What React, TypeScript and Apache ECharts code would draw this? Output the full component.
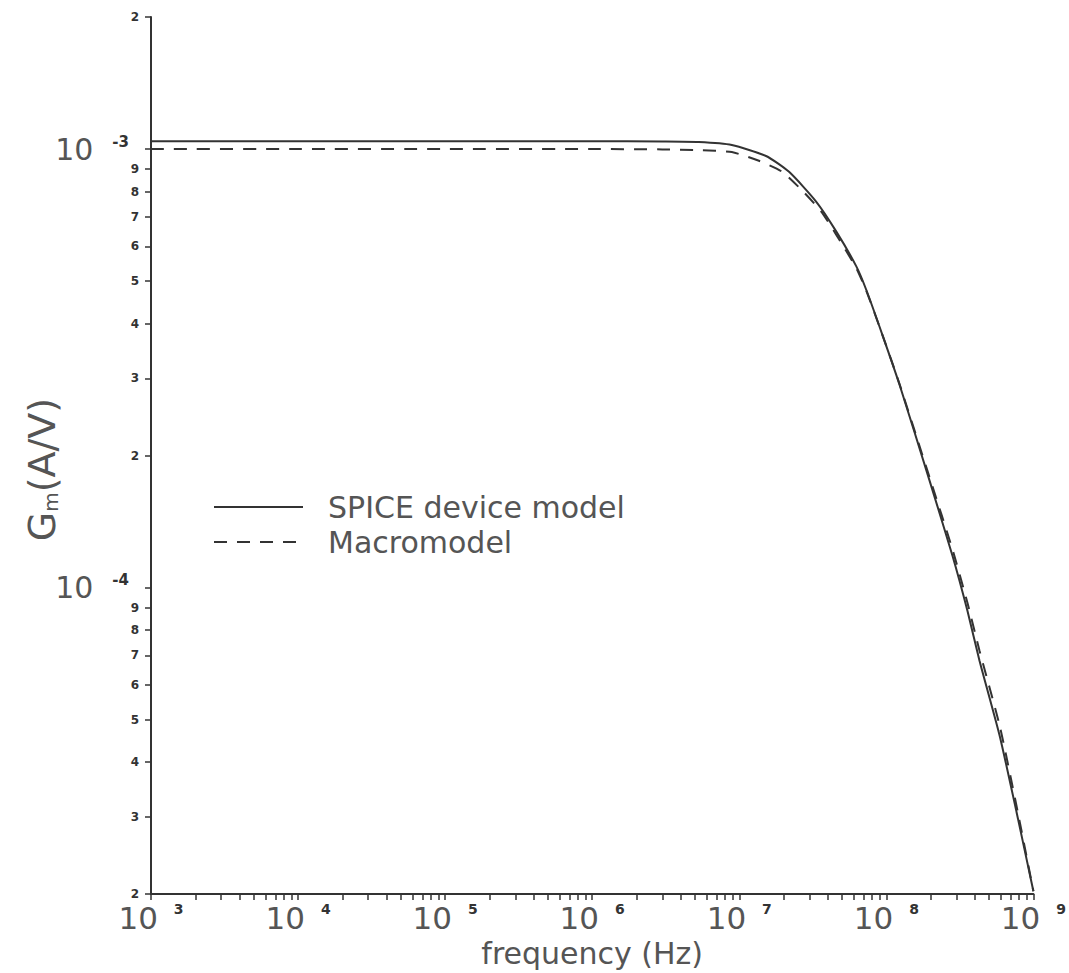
import React, { useEffect, useRef } from "react";
import * as echarts from "echarts";

// ---- data ----
const spiceFreq = [1e3, 1e4, 1e5, 1e6, 3e6, 5.3e6, 8.9e6, 1.52e7, 2.18e7, 3.33e7, 4.56e7, 6.25e7, 7.31e7, 9.4e7, 1.23e8, 1.96e8, 2.82e8, 3.56e8, 4.3e8, 5.89e8, 7.69e8, 1e9];
const spiceGm = [1.042e-3, 1.042e-3, 1.042e-3, 1.042e-3, 1.04e-3, 1.037e-3, 1.021e-3, 9.64e-4, 8.87e-4, 7.59e-4, 6.49e-4, 5.4e-4, 4.77e-4, 3.77e-4, 2.9e-4, 1.76e-4, 1.18e-4, 8.85e-5, 6.81e-5, 4.6e-5, 3.07e-5, 2.03e-5];

const macroFreq = [1e3, 1e4, 1e5, 1e6, 3e6, 5.3e6, 8.9e6, 1.36e7, 1.96e7, 2.68e7, 3.61e7, 4.56e7, 6.25e7, 7.31e7, 9.4e7, 1.23e8, 1.96e8, 2.82e8, 3.56e8, 4.3e8, 5.89e8, 7.69e8, 1e9];
const macroGm = [1.0e-3, 1.0e-3, 1.0e-3, 1.0e-3, 9.98e-4, 9.94e-4, 9.84e-4, 9.4e-4, 8.87e-4, 8.04e-4, 7.2e-4, 6.38e-4, 5.35e-4, 4.75e-4, 3.77e-4, 2.91e-4, 1.79e-4, 1.22e-4, 9.23e-5, 7.18e-5, 4.85e-5, 3.17e-5, 2.03e-5];

const seriesNames = ["SPICE device model", "Macromodel"];

// tick definitions
const xDecades = [3, 4, 5, 6, 7, 8];
const mantissas = [1, 2, 3, 4, 5, 6, 7, 8, 9];
const xLabelExponents = [3, 4, 5, 6, 7, 8, 9];
const yTickValues = [2e-5, 3e-5, 4e-5, 5e-5, 6e-5, 7e-5, 8e-5, 9e-5, 1e-4, 2e-4, 3e-4, 4e-4, 5e-4, 6e-4, 7e-4, 8e-4, 9e-4, 1e-3, 2e-3];

const xTickValues: number[] = [];
xDecades.forEach((d) => mantissas.forEach((m) => xTickValues.push(m * Math.pow(10, d))));
xTickValues.push(1e9);
const xLabelValues = xLabelExponents.map((e) => Math.pow(10, e));

const FONT = "DejaVu Sans";
const TEXT = "#555";
const INK = "#333";

function decomp(v: number) {
  const e = Math.floor(Math.log10(v) + 1e-9);
  const m = Math.round(v / Math.pow(10, e));
  return { e, m };
}

export default function App() {
  const ref = useRef<HTMLDivElement>(null);
  useEffect(() => {
    if (!ref.current) return;
    const chart = echarts.init(ref.current, null, { renderer: "svg" });
    const option: any = {
      animation: false,
      backgroundColor: "#fff",
      grid: { left: 151, right: 34, top: 17, bottom: 73, containLabel: false },
      legend: {
        data: seriesNames,
        orient: "vertical",
        left: 213,
        top: 492,
        padding: 0,
        itemWidth: 89,
        itemHeight: 14,
        itemGap: 5,
        itemStyle: { opacity: 0 },
        textStyle: { fontSize: 30, color: TEXT, fontFamily: FONT, padding: [0, 0, 0, 20] },
      },
      xAxis: {
        type: "log",
        logBase: 10,
        min: 1e3,
        max: 1e9,
        axisLine: { show: true, lineStyle: { color: INK, width: 2 } },
        axisTick: { show: true, length: 6, lineStyle: { color: INK, width: 1.5 }, customValues: xTickValues },
        splitLine: { show: false },
        minorTick: { show: false },
        axisLabel: {
          customValues: xLabelValues,
          margin: 8,
          formatter: (v: number) => `{b|10}{s|${decomp(v).e}}`,
          rich: {
            b: { fontSize: 31, color: TEXT, fontFamily: FONT },
            s: { fontSize: 14, fontWeight: "bold", color: INK, fontFamily: FONT, verticalAlign: "top", padding: [0, 0, 0, 16] },
          },
        },
        name: "frequency (Hz)",
        nameLocation: "middle",
        nameGap: 40,
        nameTextStyle: { fontSize: 30, color: TEXT, fontFamily: FONT },
      },
      yAxis: {
        type: "log",
        logBase: 10,
        min: 2e-5,
        max: 2e-3,
        axisLine: { show: true, lineStyle: { color: INK, width: 2 } },
        axisTick: { show: true, length: 6, lineStyle: { color: INK, width: 1.5 }, customValues: yTickValues },
        splitLine: { show: false },
        minorTick: { show: false },
        axisLabel: {
          customValues: yTickValues,
          margin: 12,
          formatter: (v: number) => {
            const { e, m } = decomp(v);
            if (m === 1) return `{b|10}{s|${e}}`;
            return `{m|${m}}`;
          },
          rich: {
            b: { fontSize: 30, color: TEXT, fontFamily: FONT },
            s: { fontSize: 15, fontWeight: "bold", color: INK, fontFamily: FONT, verticalAlign: "top", padding: [0, 10, 0, 19] },
            m: { fontSize: 12, fontWeight: "bold", color: INK, fontFamily: FONT },
          },
        },
        name: "{g|G}{sub|m}{g|(A/V)}",
        nameLocation: "middle",
        nameGap: 90,
        nameRotate: 90,
        nameMoveOverlap: false,
        nameTextStyle: {
          padding: [0, 28, 0, 0],
          rich: {
            g: { fontSize: 38, color: TEXT, fontFamily: FONT },
            sub: { fontSize: 20, color: TEXT, fontFamily: FONT, verticalAlign: "bottom" },
          },
        },
      },
      series: [
        {
          name: seriesNames[0],
          type: "line",
          data: spiceFreq.map((f, i) => [f, spiceGm[i]]),
          symbol: "none",
          showSymbol: false,
          smooth: 0.2,
          lineStyle: { color: INK, width: 2, type: "solid" },
          itemStyle: { color: INK },
        },
        {
          name: seriesNames[1],
          type: "line",
          data: macroFreq.map((f, i) => [f, macroGm[i]]),
          symbol: "none",
          showSymbol: false,
          smooth: 0.2,
          lineStyle: { color: INK, width: 2, type: [13, 10] },
          itemStyle: { color: INK },
        },
      ],
    };
    chart.setOption(option);
    return () => chart.dispose();
  }, []);
  return (
    <div
      ref={ref}
      style={{ position: "fixed", left: 0, top: 0, width: 1069, height: 973, background: "#fff" }}
    />
  );
}
